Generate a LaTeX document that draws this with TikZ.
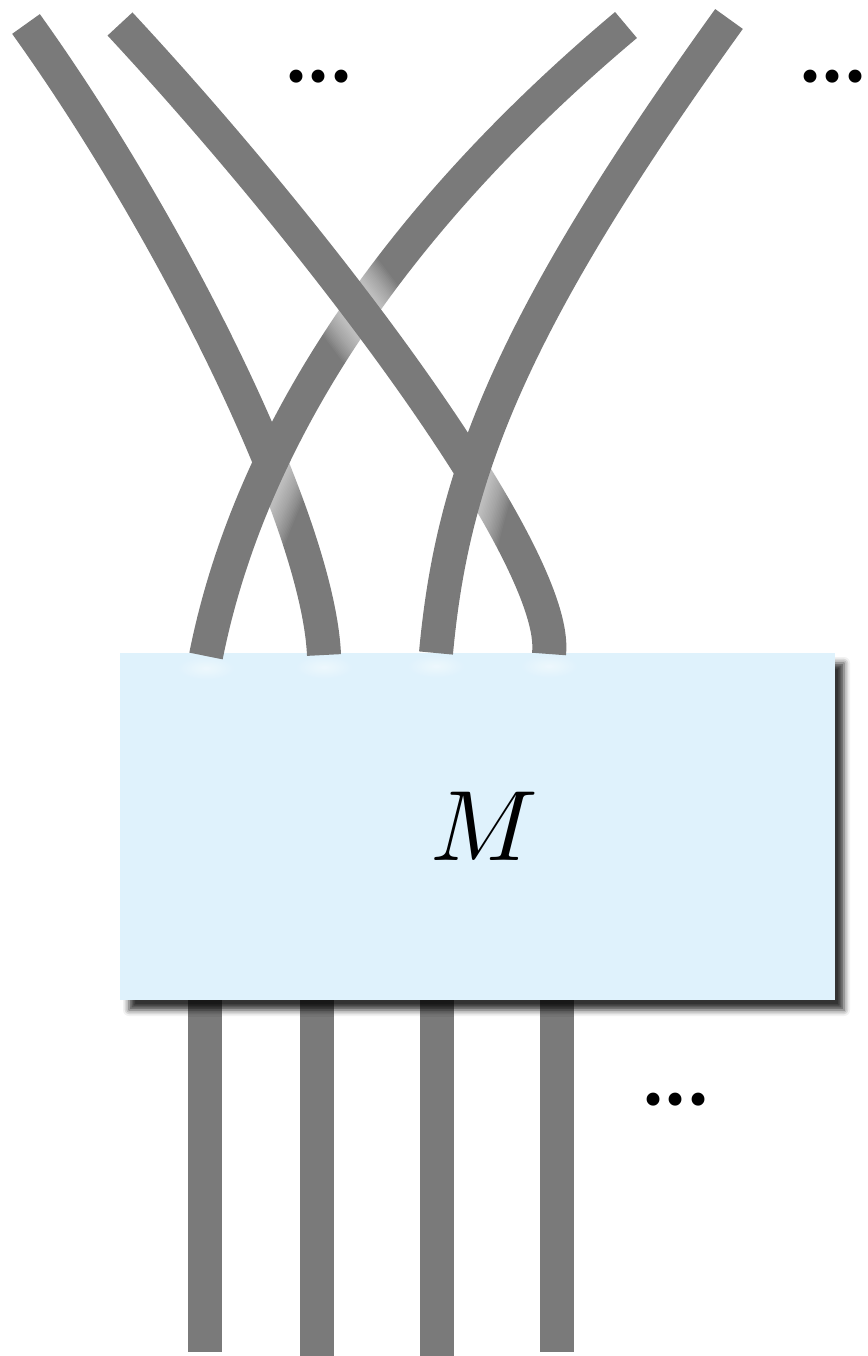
\documentclass[tikz,border=0pt]{standalone}
\usepackage{graphicx}
\usepackage{fontspec}
\newfontfamily\dotfont{Poppins}
\usetikzlibrary{shadows.blur}
\definecolor{strandgray}{HTML}{7A7A7A}
\definecolor{boxblue}{HTML}{DFF2FC}
\newcommand{\bigM}{\scalebox{10}{$M$}}
\begin{document}
\begin{tikzpicture}[x=1pt,y=-1pt,
  strand/.style={draw=strandgray, line width=34pt, line cap=butt},
  halo/.style={draw=white, line cap=butt, line width=#1, opacity=0.045},
  mapbox/.style={fill=boxblue, draw=none, inner sep=0pt,
    minimum width=715pt, minimum height=347pt,
    blur shadow={shadow xshift=9pt, shadow yshift=-10pt,
      shadow blur radius=6pt, shadow opacity=80}},
  dots/.style={inner sep=0pt, font=\fontsize{105}{105}\dotfont},
  glow/.style={inner color=white, outer color=boxblue, opacity=0.45}]
\useasboundingbox (0,0) rectangle (867,1356);

% strand end points
\coordinate (t1) at (26,24);
\coordinate (t2) at (120,24);
\coordinate (t3) at (626,25);
\coordinate (t4) at (729,19);
\coordinate (b1) at (206,656);
\coordinate (b2) at (324,655);
\coordinate (b3) at (436,653);
\coordinate (b4) at (549,654);
\coordinate (u1) at (205,1000);
\coordinate (u2) at (317,1000);
\coordinate (u3) at (437,1000);
\coordinate (u4) at (557,1000);
\coordinate (d1) at (205,1352);
\coordinate (d2) at (317,1357);
\coordinate (d3) at (437,1357);
\coordinate (d4) at (557,1352);

% outgoing legs below the map
\draw[strand] (u1) -- (d1);
\draw[strand] (u2) -- (d2);
\draw[strand] (u3) -- (d3);
\draw[strand] (u4) -- (d4);

% the map itself
\node[mapbox] (box) at (477.5,826.5) {};
\node[inner sep=0pt] (label) at (484,826) {\bigM};

% soft highlights where the strands meet the box
\shade[glow] (206,668) ellipse (30 and 12);
\shade[glow] (324,667) ellipse (30 and 12);
\shade[glow] (436,666) ellipse (30 and 12);
\shade[glow] (549,666) ellipse (30 and 12);

% braided strands above the map
\draw[strand] (t1) .. controls (170,225) and (318,520) .. (b2);

\begin{scope}
  \clip (204,550) -- (336,350) -- (461,433) -- (329,633) -- cycle;
  \foreach \w in {36,39,...,90}
    \draw[halo=\w pt] (b1) .. controls (245,460) and (370,240) .. (t3);
\end{scope}
\draw[strand] (b1) .. controls (245,460) and (370,240) .. (t3);

\begin{scope}
  \clip (362,305) circle (60);
  \foreach \w in {36,39,...,90}
    \draw[halo=\w pt] (t2) .. controls (330,250) and (560,560) .. (b4);
\end{scope}
\draw[strand] (t2) .. controls (330,250) and (560,560) .. (b4);

\begin{scope}
  \clip (430,548) -- (504,362) -- (644,417) -- (570,603) -- cycle;
  \foreach \w in {36,39,...,90}
    \draw[halo=\w pt] (b3) .. controls (452,480) and (505,330) .. (t4);
\end{scope}
\draw[strand] (b3) .. controls (452,480) and (505,330) .. (t4);

% ellipses marking further strands
\node[dots] (dotsA) at (319,77) {...};
\node[dots] (dotsB) at (833,77) {...};
\node[dots] (dotsC) at (676,1100) {...};
\end{tikzpicture}
\end{document}
